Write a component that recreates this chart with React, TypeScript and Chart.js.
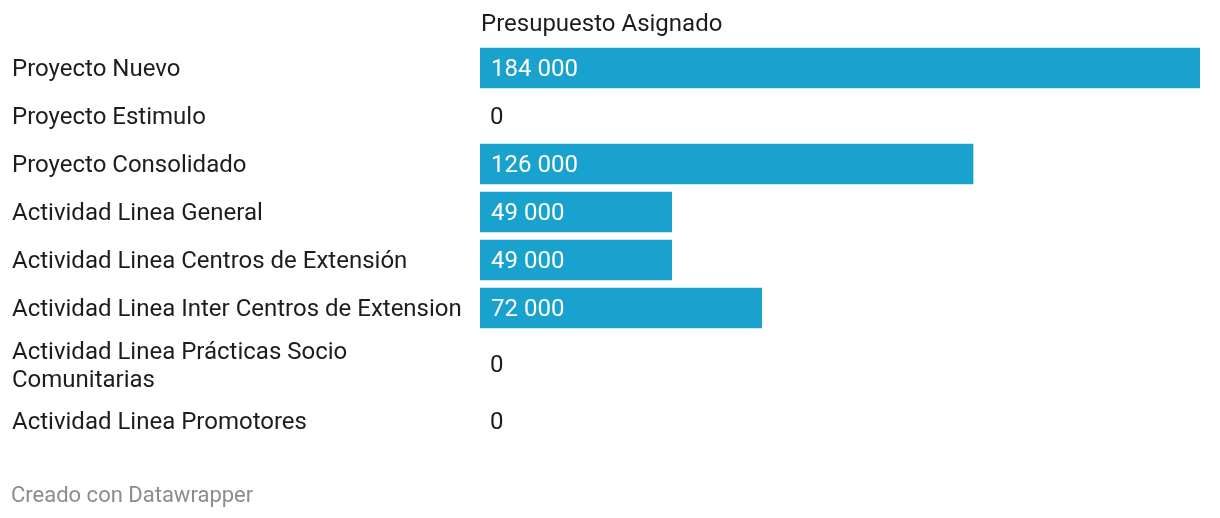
import React, { useEffect, useRef } from 'react';
import { Chart, registerables, CategoryScale } from 'chart.js';

Chart.register(...registerables);

const categories: (string | string[])[] = [
  'Proyecto Nuevo',
  'Proyecto Estimulo',
  'Proyecto Consolidado',
  'Actividad Linea General',
  'Actividad Linea Centros de Extensión',
  'Actividad Linea Inter Centros de Extension',
  ['Actividad Linea Prácticas Socio', 'Comunitarias'],
  'Actividad Linea Promotores',
];
const values = [184000, 0, 126000, 49000, 49000, 72000, 0, 0];
const seriesName = 'Presupuesto Asignado';
const footerText = 'Creado con Datawrapper';
const xMax = 184000;

const fmt = (v: number) => String(v).replace(/\B(?=(\d{3})+(?!\d))/g, ' ');

class WeightedCategoryScale extends (CategoryScale as any) {
  static id = 'weightedCategory';
  static defaults = (CategoryScale as any).defaults;
  getPixelForValue(value: any) {
    let v = value;
    if (typeof v !== 'number') v = (this as any).parse(v);
    if (v === null || v === undefined || isNaN(v)) return NaN;
    const labels: any[] = (this as any).getLabels();
    const w = labels.map((l) => (Array.isArray(l) ? 1 + ((l.length - 1) * 17) / 48 : 1));
    const total = w.reduce((a, b) => a + b, 0);
    let cum = 0;
    for (let i = 0; i < v; i++) cum += w[i];
    const frac = (cum + w[v] / 2) / total;
    return (this as any).top + frac * ((this as any).bottom - (this as any).top);
  }
}
Chart.register(WeightedCategoryScale as any);

const FONT = 'Roboto, "Noto Sans", sans-serif';
const TEXT = '#1d1d1d';

const textPlugin = {
  id: 'dwText',
  afterDatasetsDraw(chart: any) {
    const ctx = chart.ctx;
    const area = chart.chartArea;
    ctx.save();
    ctx.font = `24px ${FONT}`;
    ctx.textBaseline = 'middle';
    ctx.textAlign = 'left';
    // header
    ctx.fillStyle = TEXT;
    ctx.fillText(seriesName, area.left + 1, 25);
    // value labels
    const meta = chart.getDatasetMeta(0);
    meta.data.forEach((bar: any, i: number) => {
      const v = values[i];
      if (v > 0) {
        ctx.fillStyle = '#ffffff';
        ctx.fillText(fmt(v), area.left + 11, bar.y + 1.5);
      } else {
        ctx.fillStyle = TEXT;
        ctx.fillText(fmt(v), area.left + 10, bar.y + 1.5);
      }
    });
    // footer
    ctx.font = `22px ${FONT}`;
    ctx.fillStyle = '#8c8c8c';
    ctx.fillText(footerText, 11, 496);
    ctx.restore();
  },
};

export default function App() {
  const ref = useRef<HTMLCanvasElement>(null);
  useEffect(() => {
    document.body.style.margin = '0';
    const chart = new Chart(ref.current as HTMLCanvasElement, {
      type: 'bar',
      data: {
        labels: categories as any,
        datasets: [
          {
            label: seriesName,
            data: values,
            backgroundColor: (c: any) => (c.raw > 0 ? '#1aa2cf' : 'rgba(0,0,0,0)'),
            barThickness: 40,
          },
        ],
      },
      options: {
        indexAxis: 'y',
        animation: false,
        responsive: false,
        events: [],
        layout: { padding: { left: 12, right: 20, top: 44, bottom: 73 } },
        plugins: { legend: { display: false }, tooltip: { enabled: false }, title: { display: false } },
        scales: {
          x: { type: 'linear', min: 0, max: xMax, display: false },
          y: {
            type: 'weightedCategory' as any,
            grid: { display: false, drawTicks: false },
            border: { display: false },
            afterFit: (scale: any) => {
              scale.width = 468;
            },
            ticks: {
              autoSkip: false,
              crossAlign: 'far',
              labelOffset: 2,
              color: TEXT,
              font: { family: FONT, size: 24, lineHeight: 28 / 24 },
              callback: function (this: any, v: any) {
                return this.getLabelForValue(v);
              },
            },
          } as any,
        },
      },
      plugins: [textPlugin],
    });
    return () => chart.destroy();
  }, []);
  return (
    <div style={{ position: 'absolute', left: 0, top: 0, width: 1220, height: 518, background: '#fff' }}>
      <canvas ref={ref} width={1220} height={518} />
    </div>
  );
}
